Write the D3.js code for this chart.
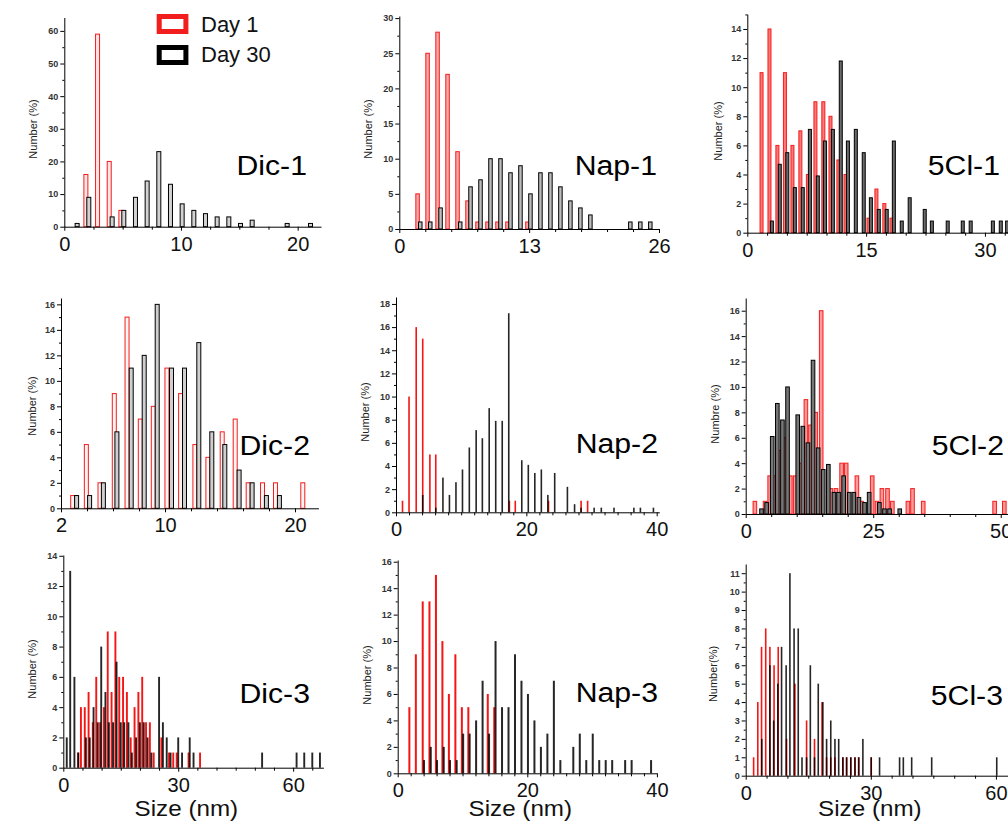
<!DOCTYPE html>
<html>
<head>
<script src="https://d3js.org/d3.v7.min.js"></script>
<style>
  body { margin: 0; background: #fff; }
  svg { font-family: "Liberation Sans", Arial, sans-serif; display: block; }
  .ytick text { font-size: 9px; font-weight: bold; fill: #333; }
  .xtick text { font-size: 20px; fill: #111; }
  .domain, .tick line { stroke: #000; }
  .title { font-size: 27px; fill: #000; }
  .ylab { font-size: 11px; fill: #222; }
  .xlab { font-size: 22px; fill: #111; }
  .legend { font-size: 22px; fill: #111; }
</style>
</head>
<body>
<script>
// [size (nm), number (%)]
var dic1Day1 = [[1.85,16],[2.85,59],[3.85,20],[4.85,5]];
var dic1Day30 = [[1.1,1],[2.1,9],[4.1,3],[5.1,5],[6.1,9],[7.1,14],[8.1,23],[9.1,13],[10.1,7],[11.1,5],[12.1,4],[13.1,3],[14.1,3],[15.1,1],[16.1,2],[19.1,1],[21.1,1]];

var nap1Day1 = [[1.83,5],[2.83,25],[3.83,28],[4.83,22],[5.83,11],[6.83,4],[7.83,1],[8.83,1],[9.83,1],[10.83,1],[12.83,1]];
var nap1Day30 = [[2.1,1],[3.1,1],[4.13,3],[6.1,1],[7.13,6],[8.13,7],[9.13,10],[10.13,10],[11.13,8],[12.13,9],[13.13,5],[14.13,8],[15.13,8],[16.13,6],[17.13,4],[18.13,3],[19.13,2],[23.13,1],[24.13,1],[25.13,1]];

var cl1Day1 = [[1.8,11],[2.8,14],[3.8,6],[4.75,11],[5.7,6],[6.7,7],[7.65,4],[8.6,9],[9.6,9],[10.5,8],[11.5,5],[12.4,4],[15.3,1],[16.3,3],[17.3,2],[18.2,1]];
var cl1Day30 = [[3.1,0.8],[4.1,4.7],[5.05,5.5],[6.0,3.1],[7.0,3.1],[7.9,7.1],[8.9,3.9],[9.8,6.3],[10.8,7.1],[11.8,11.8],[12.7,6.3],[13.7,7.1],[14.7,5.5],[15.6,2.4],[16.6,1.6],[17.6,1.6],[18.5,6.3],[19.5,0.8],[20.5,2.4],[22.4,1.6],[23.3,0.8],[25.3,0.8],[27.2,0.8],[28.2,0.8],[31,0.8],[32,0.8],[32.8,0.8]];

var dic2Day1 = [[2.9,1],[3.95,5],[5.0,2],[6.1,9],[7.08,15],[8.1,7],[9.1,8],[10.15,11],[11.2,9],[12.3,5],[13.3,4],[14.4,6],[15.4,7],[16.4,2],[17.5,2],[18.5,2],[20.6,2]];
var dic2Day30 = [[3.2,1],[4.2,1],[5.26,2],[6.3,6],[7.4,11],[8.4,12],[9.4,16],[10.5,11],[11.5,11],[12.6,13],[13.6,6],[14.6,5],[15.7,3],[16.7,2],[17.8,1],[18.8,1]];

var nap2Day1 = [[1.0,1],[2.0,10],[3.1,16],[4.1,15],[5.2,5],[6.1,5],[17.4,1],[18.3,1],[23.4,1],[28.4,1],[29.4,1]];
var nap2Day30 = [[4.1,1.5],[6.1,0.4],[7.2,3],[8.2,1.5],[9.2,2.6],[10.2,3.7],[11.25,5.6],[12.3,7.1],[13.25,6.4],[14.3,9],[15.3,7.9],[16.3,7.9],[17.3,17.2],[19.3,4.5],[20.3,4.1],[21.3,3.4],[22.3,3.7],[23.3,1.5],[24.35,3.4],[26.3,2.2],[27.4,0.7],[28.4,0.4],[30.4,0.4],[31.5,0.4],[33.45,0.4],[36.5,0.4],[37.5,0.4],[39.5,0.4]];

var cl2Day1 = [[1.8,1],[3.8,1],[4.7,3],[5.75,3],[6.8,5],[7.7,6],[8.75,3],[9.7,3],[10.7,4],[11.8,9],[12.7,7],[13.7,8],[14.8,16],[16.7,2],[17.7,2],[18.8,4],[19.7,4],[21.8,3],[22.7,1],[24.8,3],[25.75,1],[26.7,2],[27.8,2],[28.75,1],[31.8,1],[32.7,2],[34.8,1],[48.8,1],[50.7,1]];
var cl2Day30 = [[3.1,0.4],[4.1,0.9],[5.2,6.1],[6.2,8.7],[7.2,7.4],[8.2,10],[10.2,7.8],[11.2,6.9],[12.2,5.6],[13.2,12.1],[14.2,5.2],[15.2,3.5],[16.2,3.9],[17.3,1.7],[18.2,1.7],[19.2,3],[20.3,1.7],[21.2,1.7],[22.2,1.3],[23.3,0.9],[24.2,1.7],[26.2,0.9],[27.2,0.4],[28.2,0.4],[30.2,0.4]];

var dic3Day1 = [[3.9,1],[4.6,4],[5.6,4],[6.6,5],[7.7,3],[8.6,6],[9.6,3],[10.6,4],[11.6,9],[12.6,5],[13.6,9],[14.6,6],[15.6,6],[16.6,5],[17.6,2],[18.6,4],[19.6,5],[20.6,6],[21.6,3],[22.6,3],[23.6,1],[25.6,2],[27.6,1],[28.7,1],[29.6,1],[32.7,1],[35.7,1]];
var dic3Day30 = [[0.9,2],[1.8,13],[2.9,6],[3.9,1],[5.9,2],[6.9,2],[7.9,4],[9.0,3],[9.9,8],[11,5],[11.9,3],[13,3],[13.9,7],[15,3],[15.9,3],[17,3],[17.9,1],[19,2],[20,3],[21,3],[22,2],[23,1],[25,6],[26,3],[27,2],[28,1],[30,2],[31,1],[33,2],[34,1],[51.9,1],[60.9,1],[62.9,1],[65,1],[67,1]];

var nap3Day1 = [[1.8,5],[2.8,9],[3.86,13],[4.9,13],[5.9,15],[6.9,10],[7.9,6],[8.9,9],[9.9,5],[10.9,5],[13.9,6],[14.9,5]];
var nap3Day30 = [[4.06,1],[5.1,2],[6.07,1],[7.1,2],[8.07,1],[9.1,1],[10.1,3],[11.1,3],[12.1,4],[13.1,7],[14.1,3],[15.1,10],[16.1,5],[17.1,5],[18.1,9],[19.1,7],[20.1,6],[21.1,4],[22.1,2],[23.1,3],[24.1,7],[25.1,1],[27.1,2],[28.1,3],[29.1,1],[30.1,3],[31.1,1],[32.1,1],[33.1,1],[35.1,1],[36.1,1],[39.1,1]];

var cl3Day1 = [[1.9,1],[2.9,4],[3.8,7],[4.8,8],[5.8,7],[6.8,6],[7.8,7],[9.8,2],[11.8,5],[14.6,3],[16.5,2],[18.3,4],[19.4,1],[20.4,1],[21.4,1],[23.3,1],[24.2,1],[25.2,1],[26.2,1],[27.1,1],[30.1,1]];
var cl3Day30 = [[3.85,2],[5.8,6],[6.7,3],[7.7,5],[8.6,7],[9.7,6],[10.6,11],[11.6,8],[12.6,8],[13.5,1],[14.6,1],[15.5,6],[16.5,1],[17.4,5],[18.5,4],[19.4,2],[20.4,3],[21.4,2],[22.3,2],[23.3,1],[24.2,1],[25.2,1],[26.2,1],[27.1,1],[28.1,2],[30.1,1],[32.1,1],[36.9,1],[37.8,1],[39.8,1],[44.6,1],[60.2,1]];

var legendLabels = ["Day 1", "Day 30"];
var sizeLabel = "Size (nm)";

// layout of the nine panels
var panels = [
  {title:"Dic-1", day1:dic1Day1, day30:dic1Day30, xd:[0,22], xr:[64.3,321], yd:[0,64.1], yr:[226.7,17.5], xt:[0,10,20], xm:2.5, ys:10, ym:5, ylab:"Number (%)", ylx:33, yly:129, tx:307, ty:175, bars:"outline", bw:4, rf:"#fde6e6", bf:"#d2d2d2"},
  {title:"Nap-1", day1:nap1Day1, day30:nap1Day30, xd:[0,26], xr:[399.3,659], yd:[0,30.3], yr:[229,16], xt:[0,13,26], xm:2.6, ys:5, ym:2.5, ylab:"Number (%)", ylx:368, yly:129, tx:657, ty:175, bars:"outline", bw:3.5, rf:"#f9a8a8", bf:"#bdbdbd"},
  {title:"5Cl-1", day1:cl1Day1, day30:cl1Day30, xd:[0,33], xr:[747.3,1008.7], yd:[0,15.03], yr:[232.7,14], xt:[0,15,30], xm:2.5, ys:2, ym:1, ylab:"Number (%)", ylx:718, yly:131, tx:1000, ty:175, bars:"outline", bw:3, rf:"#f77", bf:"#6a6a6a"},
  {title:"Dic-2", day1:dic2Day1, day30:dic2Day30, xd:[2,21.8], xr:[61,318.4], yd:[0,16.5], yr:[508.3,298], xt:[2,10,20], xm:2, ys:2, ym:1, ylab:"Number (%)", ylx:32, yly:406, tx:310, ty:455, bars:"outline", bw:4, rf:"#fff4f4", bf:"#cfcfcf"},
  {title:"Nap-2", day1:nap2Day1, day30:nap2Day30, xd:[0,40.4], xr:[396,659.3], yd:[0,18.6], yr:[512.3,297], xt:[0,20,40], xm:2, ys:2, ym:1, ylab:"Number (%)", ylx:365, yly:412, tx:658, ty:453, bars:"solid", bw:1.6},
  {title:"5Cl-2", day1:cl2Day1, day30:cl2Day30, xd:[0,51.5], xr:[745.7,1008.4], yd:[0,17], yr:[514,298], xt:[0,25,50], xm:5, ys:2, ym:1, ylab:"Numbre (%)", ylx:715, yly:414, tx:1004, ty:455, bars:"outline", bw:3.6, rf:"#f99", bf:"#777"},
  {title:"Dic-3", day1:dic3Day1, day30:dic3Day30, xd:[0,67.9], xr:[63.3,323.4], yd:[0,14.05], yr:[767.7,555], xt:[0,30,60], xm:5, ys:2, ym:1, ylab:"Number (%)", ylx:32, yly:669, tx:310, ty:703, bars:"solid", bw:1.9, xlabel:true},
  {title:"Nap-3", day1:nap3Day1, day30:nap3Day30, xd:[0,40], xr:[397.7,656.9], yd:[0,16.13], yr:[773.3,560], xt:[0,20,40], xm:2, ys:2, ym:1, ylab:"Number (%)", ylx:367, yly:675, tx:658, ty:702, bars:"solid", bw:2, xlabel:true},
  {title:"5Cl-3", day1:cl3Day1, day30:cl3Day30, xd:[0,62.9], xr:[745.7,1008], yd:[0,11.5], yr:[775.7,564], xt:[0,30,60], xm:5, ys:1, ym:0.5, ylab:"Number(%)", ylx:713, yly:674, tx:1003, ty:705, bars:"solid", bw:1.6, xlabel:true}
];

var svg = d3.select("body").append("svg")
  .attr("width", 1008)
  .attr("height", 821);

function notIn(list) {
  return function(v) { return !list.some(function(m) { return Math.abs(m - v) < 1e-6; }); };
}

function drawBars(g, data, x, y, p, colour) {
  var sel = g.append("g").selectAll("rect").data(data).enter().append("rect")
    .attr("x", function(d) { return x(d[0]) - p.bw / 2; })
    .attr("y", function(d) { return y(d[1]); })
    .attr("width", p.bw)
    .attr("height", function(d) { return y(0) - y(d[1]); });
  if (p.bars == "outline") {
    sel.attr("fill", colour == "red" ? p.rf : p.bf)
      .attr("stroke", colour == "red" ? "#f21d1d" : "#000")
      .attr("stroke-width", 1);
  } else {
    sel.attr("fill", colour == "red" ? "#f41515" : "#000")
      .attr("opacity", colour == "red" ? 1 : 0.85);
  }
}

panels.forEach(function(p) {
  var x = d3.scaleLinear().domain(p.xd).range(p.xr);
  var y = d3.scaleLinear().domain(p.yd).range(p.yr);
  var g = svg.append("g");

  drawBars(g, p.day1, x, y, p, "red");
  drawBars(g, p.day30, x, y, p, "black");

  // y axis, major and minor ticks
  var yMajor = d3.range(0, p.yd[1] + 1e-6, p.ys);
  var yMinor = d3.range(0, p.yd[1], p.ym).filter(notIn(yMajor));
  g.append("g").attr("class", "ytick")
    .attr("transform", "translate(" + p.xr[0] + ",0)")
    .call(d3.axisLeft(y).tickValues(yMajor).tickSize(4).tickSizeOuter(0).tickPadding(2));
  g.append("g")
    .attr("transform", "translate(" + p.xr[0] + ",0)")
    .call(d3.axisLeft(y).tickValues(yMinor).tickSize(2).tickFormat(""))
    .select(".domain").remove();

  // x axis
  var xMinor = d3.range(p.xd[0], p.xd[1], p.xm).filter(notIn(p.xt));
  g.append("g").attr("class", "xtick")
    .attr("transform", "translate(0," + p.yr[0] + ")")
    .call(d3.axisBottom(x).tickValues(p.xt).tickSize(4).tickSizeOuter(0).tickPadding(6));
  g.append("g")
    .attr("transform", "translate(0," + p.yr[0] + ")")
    .call(d3.axisBottom(x).tickValues(xMinor).tickSize(3).tickFormat(""))
    .select(".domain").remove();

  // y axis title
  g.append("text").attr("class", "ylab")
    .attr("transform", "translate(" + p.ylx + "," + p.yly + ") rotate(-90)")
    .attr("text-anchor", "middle")
    .attr("dy", "0.35em")
    .text(p.ylab);

  // panel name
  g.append("text").attr("class", "title")
    .attr("transform", "translate(" + p.tx + "," + p.ty + ") scale(1.12,1)")
    .attr("text-anchor", "end")
    .text(p.title);

  if (p.xlabel) {
    g.append("text").attr("class", "xlab")
      .attr("transform", "translate(" + ((p.xr[0] + p.xr[1]) / 2 - 7) + ",816) scale(1.1,1)")
      .attr("text-anchor", "middle")
      .text(sizeLabel);
  }
});

// legend in the first panel
var legend = svg.append("g");
legendLabels.forEach(function(lab, i) {
  legend.append("rect")
    .attr("x", 159.2).attr("y", 16.5 + i * 31)
    .attr("width", 26.7).attr("height", 15)
    .attr("fill", "#fff")
    .attr("stroke", i == 0 ? "#f21d1d" : "#000")
    .attr("stroke-width", 5);
  legend.append("text").attr("class", "legend")
    .attr("x", 201).attr("y", 32 + i * 29.5)
    .text(lab);
});
</script>
</body>
</html>
